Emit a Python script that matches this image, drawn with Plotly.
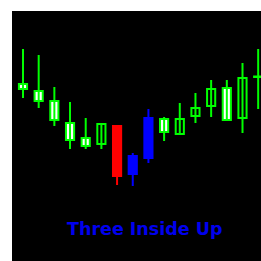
import plotly.graph_objects as go

# ---- data (price units) ----
x = list(range(16))
opens  = [177, 170, 160, 138, 123, 117, 135,  87, 103, 142, 127, 145, 155, 173, 143, 184]
highs  = [212, 206, 174, 159, 143, 137, 135, 108, 152, 144, 158, 168, 181, 181, 198, 212]
lows   = [163, 153, 135, 112, 112, 112,  76,  75,  98, 120, 127, 138, 144, 141, 128, 152]
closes = [172, 160, 141, 121, 115, 137,  85, 105, 143, 129, 142, 153, 172, 141, 183, 184.5]
pattern_idx = [6, 7, 8]
pattern_colors = ["#ff0000", "#0000ff", "#0000ff"]
title = "Three Inside Up"

LIME = "#00ff00"
fills, lines = [], []
for i in x:
    if i in pattern_idx:
        c = pattern_colors[pattern_idx.index(i)]
        fills.append(c); lines.append(c)
    elif closes[i] < opens[i]:
        fills.append("#ffffff"); lines.append(LIME)
    else:
        fills.append("#000000"); lines.append(LIME)

fig = go.Figure()

# wicks grouped by colour
for col in dict.fromkeys(lines):
    wx, wy = [], []
    for i in x:
        if lines[i] == col:
            wx += [i, i, None]
            wy += [lows[i], highs[i], None]
    fig.add_trace(go.Scatter(x=wx, y=wy, mode="lines",
                             line=dict(color=col, width=2),
                             hoverinfo="skip", showlegend=False))

# bodies
base = [min(o, c) for o, c in zip(opens, closes)]
size = [abs(c - o) for o, c in zip(opens, closes)]
fig.add_trace(go.Bar(x=x, y=size, base=base, width=0.52,
                     marker=dict(color=fills, line=dict(color=lines, width=2)),
                     showlegend=False, hoverinfo="skip"))

fig.add_annotation(text=title, xref="paper", yref="paper", x=0.534, y=0.13,
                   xanchor="center", yanchor="middle", showarrow=False,
                   font=dict(family="DejaVu Sans", size=17.5, color="#0000ee", weight="bold"))

fig.update_layout(width=261, height=261, margin=dict(l=12, r=0, t=11, b=0),
                  paper_bgcolor="#ffffff", plot_bgcolor="#000000",
                  barmode="overlay", showlegend=False,
                  xaxis=dict(range=[-0.7015, 15.18], visible=False, fixedrange=True),
                  yaxis=dict(range=[0, 250], visible=False, fixedrange=True))

fig.write_html("out.html", config={"displayModeBar": False, "responsive": False},
               post_script="document.body.style.margin='0';document.body.style.overflow='hidden';")
